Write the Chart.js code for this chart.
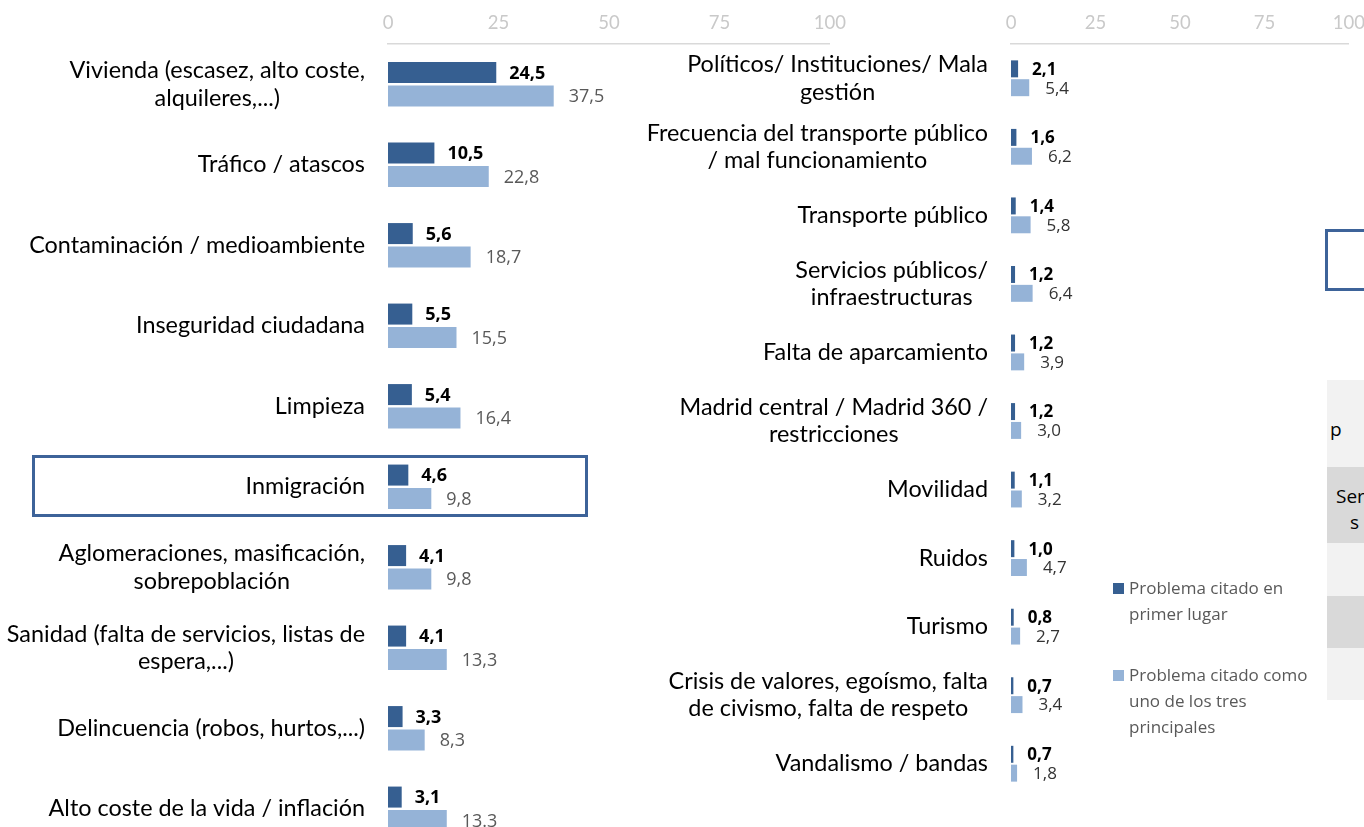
<!DOCTYPE html>
<html>
<head>
<meta charset="utf-8">
<script src="https://cdn.jsdelivr.net/npm/chart.js@4/dist/chart.umd.min.js"></script>
<style>
  html, body { margin: 0; padding: 0; background: #fff; overflow: hidden; width: 1364px; height: 827px; }
  body { position: relative; font-family: Lato, "Noto Sans", sans-serif; }
  .wrap { position: absolute; top: 0; }
  #leftWrap { left: 0; width: 856px; height: 860px; }
  #rightWrap { left: 620px; width: 755px; height: 827px; }
  .box { position: absolute; border: 3px solid #3d6399; box-sizing: border-box; }
  .legend { position: absolute; left: 1113px; color: #595959; font-family: "Open Sans", sans-serif; font-size: 17px; line-height: 26px; }
  .legend .sw { position: absolute; left: 0; top: 8px; width: 11px; height: 11px; }
  .legend .tx { position: absolute; left: 16px; white-space: nowrap; }
  .cell { position: absolute; left: 1327px; width: 60px; overflow: hidden; color: #000; font-family: "Open Sans", sans-serif; font-size: 19px; }
</style>
</head>
<body>
<div class="wrap" id="leftWrap"><canvas id="leftChart"></canvas></div>
<div class="wrap" id="rightWrap"><canvas id="rightChart"></canvas></div>

<div class="box" style="left:32px; top:455px; width:556px; height:62px;"></div>
<div class="box" style="left:1325px; top:229px; width:60px; height:62px;"></div>

<div class="cell" style="top:380px; height:87px; background:#f2f2f2;"><span style="position:absolute; left:3px; top:36px;">p</span></div>
<div class="cell" style="top:467px; height:76px; background:#d9d9d9;"><span style="position:absolute; left:9px; top:16px;">Ser</span><span style="position:absolute; left:23px; top:42px;">s</span></div>
<div class="cell" style="top:543px; height:53px; background:#f2f2f2;"></div>
<div class="cell" style="top:596px; height:52px; background:#d9d9d9;"></div>
<div class="cell" style="top:648px; height:52px; background:#f2f2f2;"></div>

<div class="legend" style="top:575px;">
  <div class="sw" style="background:#365f91;"></div>
  <div class="tx">Problema citado en<br>primer lugar</div>
</div>
<div class="legend" style="top:662px;">
  <div class="sw" style="background:#95b3d7;"></div>
  <div class="tx">Problema citado como<br>uno de los tres<br>principales</div>
</div>

<script>
// --- Data ---
const leftLabels = [
    ['Vivienda (escasez, alto coste,', 'alquileres,...)'],
    'Tráfico / atascos',
    'Contaminación / medioambiente',
    'Inseguridad ciudadana',
    'Limpieza',
    'Inmigración',
    ['Aglomeraciones, masificación,', 'sobrepoblación'],
    ['Sanidad (falta de servicios, listas de', 'espera,...)'],
    'Delincuencia (robos, hurtos,...)',
    'Alto coste de la vida / inflación'
];
const leftFirst = [24.5, 10.5, 5.6, 5.5, 5.4, 4.6, 4.1, 4.1, 3.3, 3.1];
const leftTopThree = [37.5, 22.8, 18.7, 15.5, 16.4, 9.8, 9.8, 13.3, 8.3, 13.3];

const rightLabels = [
    ['Políticos/ Instituciones/ Mala', 'gestión'],
    ['Frecuencia del transporte público', '/ mal funcionamiento'],
    'Transporte público',
    ['Servicios públicos/', 'infraestructuras'],
    'Falta de aparcamiento',
    ['Madrid central / Madrid 360 /', 'restricciones'],
    'Movilidad',
    'Ruidos',
    'Turismo',
    ['Crisis de valores, egoísmo, falta', 'de civismo, falta de respeto'],
    'Vandalismo / bandas'
];
const rightFirst = [2.1, 1.6, 1.4, 1.2, 1.2, 1.2, 1.1, 1.0, 0.8, 0.7, 0.7];
const rightTopThree = [5.4, 6.2, 5.8, 6.4, 3.9, 3.0, 3.2, 4.7, 2.7, 3.4, 1.8];

const axisTicks = [0, 25, 50, 75, 100];
const seriesNames = ['Problema citado en primer lugar', 'Problema citado como uno de los tres principales'];

// the source writes this one label with a dot
const leftLabelOverrides = { '1-9': '13.3' };

const DARK = '#365f91';
const LIGHT = '#95b3d7';
const FONT = 'Lato, "Noto Sans", sans-serif';
const VALUE_FONT = '"Open Sans", sans-serif';

const fmt = v => v.toFixed(1).replace('.', ',');

// category labels: each label block centred on itself, block right-aligned to the axis
const categoryLabelPlugin = {
    id: 'categoryLabels',
    afterDraw(chart, args, opts) {
        const ctx = chart.ctx;
        const yScale = chart.scales.y;
        const right = chart.chartArea.left - opts.gap;
        ctx.save();
        ctx.font = opts.size + 'px ' + FONT;
        ctx.fillStyle = '#000';
        ctx.textAlign = 'center';
        ctx.textBaseline = 'middle';
        chart.data.labels.forEach((lbl, i) => {
            const lines = Array.isArray(lbl) ? lbl : [lbl];
            const widest = Math.max(...lines.map(l => ctx.measureText(l).width));
            const cx = right - widest / 2;
            const cy = yScale.getPixelForValue(i);
            lines.forEach((line, k) => {
                ctx.fillText(line, cx, cy + (k - (lines.length - 1) / 2) * opts.lineHeight);
            });
        });
        ctx.restore();
    }
};

// value labels at bar ends
const valueLabelPlugin = {
    id: 'valueLabels',
    afterDatasetsDraw(chart, args, opts) {
        const ctx = chart.ctx;
        const overrides = opts.overrides || {};
        ctx.save();
        ctx.textAlign = 'left';
        ctx.textBaseline = 'middle';
        chart.data.datasets.forEach((ds, di) => {
            const meta = chart.getDatasetMeta(di);
            ctx.font = (di === 0 ? 'bold ' : '') + opts.size + 'px ' + VALUE_FONT;
            ctx.fillStyle = di === 0 ? '#000' : opts.lightColor;
            meta.data.forEach((bar, i) => {
                const text = overrides[di + '-' + i] || fmt(ds.data[i]);
                ctx.fillText(text, bar.x + opts.offsets[di], bar.y + 1);
            });
        });
        ctx.restore();
    }
};

const makeChart = (canvasId, labels, first, topThree, cfg) => {
    const ctx = document.getElementById(canvasId).getContext('2d');
    return new Chart(ctx, {
        type: 'bar',
        data: {
            labels: labels,
            datasets: [
                { label: seriesNames[0], data: first, backgroundColor: DARK,
                  barPercentage: cfg.barPct, categoryPercentage: cfg.catPct },
                { label: seriesNames[1], data: topThree, backgroundColor: LIGHT,
                  barPercentage: cfg.barPct, categoryPercentage: cfg.catPct }
            ]
        },
        options: {
            indexAxis: 'y',
            responsive: true,
            maintainAspectRatio: false,
            animation: false,
            layout: { padding: { top: 0, right: 16, bottom: cfg.bottomPad, left: 0 } },
            scales: {
                x: {
                    position: 'top',
                    min: 0,
                    max: 100,
                    afterBuildTicks: scale => { scale.ticks = axisTicks.map(v => ({ value: v })); },
                    afterFit: scale => { scale.height = 44; },
                    grid: { display: false, drawTicks: false },
                    border: { display: true, color: '#d9d9d9', width: 1.5 },
                    ticks: { color: '#c9c9c9', padding: 10, font: { family: FONT, size: 18.5 } }
                },
                y: {
                    afterFit: scale => { scale.width = cfg.axisWidth; },
                    grid: { display: false, drawTicks: false },
                    border: { display: false },
                    ticks: { display: false }
                }
            },
            plugins: {
                legend: { display: false },
                tooltip: { enabled: false },
                categoryLabels: { gap: 23, size: 23.4, lineHeight: 27.5 },
                valueLabels: { size: cfg.valueSize, lightColor: cfg.lightColor,
                               overrides: cfg.overrides, offsets: cfg.offsets }
            }
        },
        plugins: [categoryLabelPlugin, valueLabelPlugin]
    });
};

makeChart('leftChart', leftLabels, leftFirst, leftTopThree,
    { barPct: 0.9, catPct: 0.58, bottomPad: 11, axisWidth: 388, valueSize: 18,
      lightColor: '#595959', overrides: leftLabelOverrides, offsets: [13, 15] });
makeChart('rightChart', rightLabels, rightFirst, rightTopThree,
    { barPct: 0.9, catPct: 0.55, bottomPad: 29, axisWidth: 391, valueSize: 17,
      lightColor: '#333', offsets: [14, 16] });
</script>
</body>
</html>
